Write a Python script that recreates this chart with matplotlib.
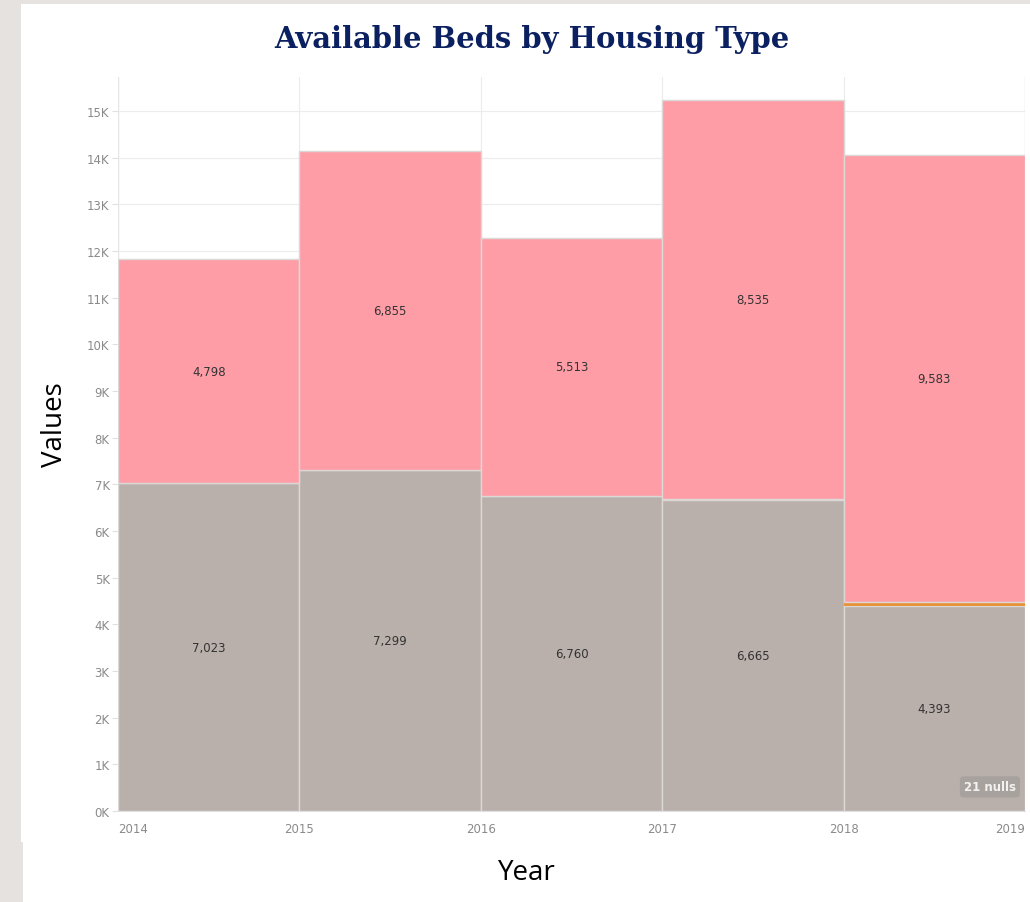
import numpy as np
import matplotlib
matplotlib.use('Agg')
from matplotlib import pyplot as plt
from matplotlib.patches import Rectangle
from matplotlib.ticker import FuncFormatter, MultipleLocator

# data
years = [2014, 2015, 2016, 2017, 2018]
shelter = [7023, 7299, 6760, 6665, 4393]      # grey band
other = [0, 0, 0, 30, 90]                    # thin orange band
housing = [4798, 6855, 5513, 8535, 9583]     # pink band
year_ticks = [2014, 2015, 2016, 2017, 2018, 2019]

grey = '#bab0ab'
orange = '#e8923a'
pink = '#ff9da7'
edge = '#dcd8d6'

fig = plt.figure(figsize=(10.30, 9.03), dpi=100)
fig.patch.set_facecolor('#e6e2df')
# white slide panel
fig.add_artist(Rectangle((21/1030, 1-843/903), 1, 838/903, transform=fig.transFigure,
                         facecolor='white', edgecolor='none', zorder=0))
fig.add_artist(Rectangle((23/1030, 0), 1, 1-843/903 + 0.001, transform=fig.transFigure,
                         facecolor='white', edgecolor='none', zorder=0))

ax = fig.add_axes([118/1030, 1-812/903, (1025-118)/1030, (812-78)/903])
ax.set_facecolor('white')

bottoms2 = np.array(shelter) + np.array(other)
ax.bar(years, shelter, width=1, align='edge', color=grey, edgecolor=edge, linewidth=1, zorder=2)
ax.bar(years, other, width=1, align='edge', bottom=shelter, color=orange, linewidth=0, zorder=2)
ax.bar(years, housing, width=1, align='edge', bottom=bottoms2, color=pink, edgecolor=edge, linewidth=1, zorder=2)

for x, s, o, h in zip(years, shelter, other, housing):
    ax.text(x + 0.5, s / 2, f'{s:,}', ha='center', va='center', fontsize=8.5, color='#333333', zorder=3)
    ax.text(x + 0.5, s + o + h / 2, f'{h:,}', ha='center', va='center', fontsize=8.5, color='#333333', zorder=3)

ax.set_xlim(2014, 2019)
ax.set_ylim(0, 15730)
ax.yaxis.set_major_locator(MultipleLocator(1000))
ax.yaxis.set_major_formatter(FuncFormatter(lambda v, p: f'{int(v/1000)}K'))
ax.set_xticks(year_ticks)
ax.set_xticklabels([str(y) for y in year_ticks])
labels = ax.get_xticklabels()
labels[0].set_ha('left')
labels[-1].set_ha('right')
ax.tick_params(axis='y', length=4, color='#e0e0e0', labelsize=8.5, labelcolor='#8a8a8a', pad=2)
ax.tick_params(axis='x', length=0, labelsize=8.5, labelcolor='#8a8a8a', pad=8)
ax.grid(True, color='#ececec', linewidth=0.8, zorder=0)
ax.set_axisbelow(True)
for side in ['top', 'right', 'left']:
    ax.spines[side].set_visible(False)
ax.spines['bottom'].set_color('#e0e0e0')
ax.axvline(2014, color='#e6e6e6', lw=1, zorder=1)
ax.axvline(2019, color='#e6e6e6', lw=1, zorder=1)

ax.text(0.99, 0.024, '21 nulls', transform=ax.transAxes, ha='right', va='bottom',
        fontsize=8.5, color='#f4f2f1', fontweight='bold', zorder=4,
        bbox=dict(boxstyle='round,pad=0.35', facecolor='#a8a29e', edgecolor='none'))

fig.text(55/1030, 1-425/903, 'Values', rotation=90, ha='center', va='center',
         fontsize=20, family=['Open Sans', 'DejaVu Sans'], color='black')
fig.text(527/1030, 1-873/903, 'Year', ha='center', va='center',
         fontsize=20, family=['Open Sans', 'DejaVu Sans'], color='black')

title = fig.text(532/1030, 1-40/903, 'Available Beds by Housing Type', ha='center', va='center',
                 fontsize=29, fontweight='bold',
                 family=['DejaVu Serif Condensed', 'Liberation Sans Narrow', 'DejaVu Serif'],
                 color='#0b2060')
# squeeze the title to the reference width if the font comes out too wide
fig.canvas.draw()
w = title.get_window_extent().width
if w > 530:
    title.set_fontsize(29 * 515 / w)

fig.savefig('out.png', dpi=100, facecolor=fig.get_facecolor())
